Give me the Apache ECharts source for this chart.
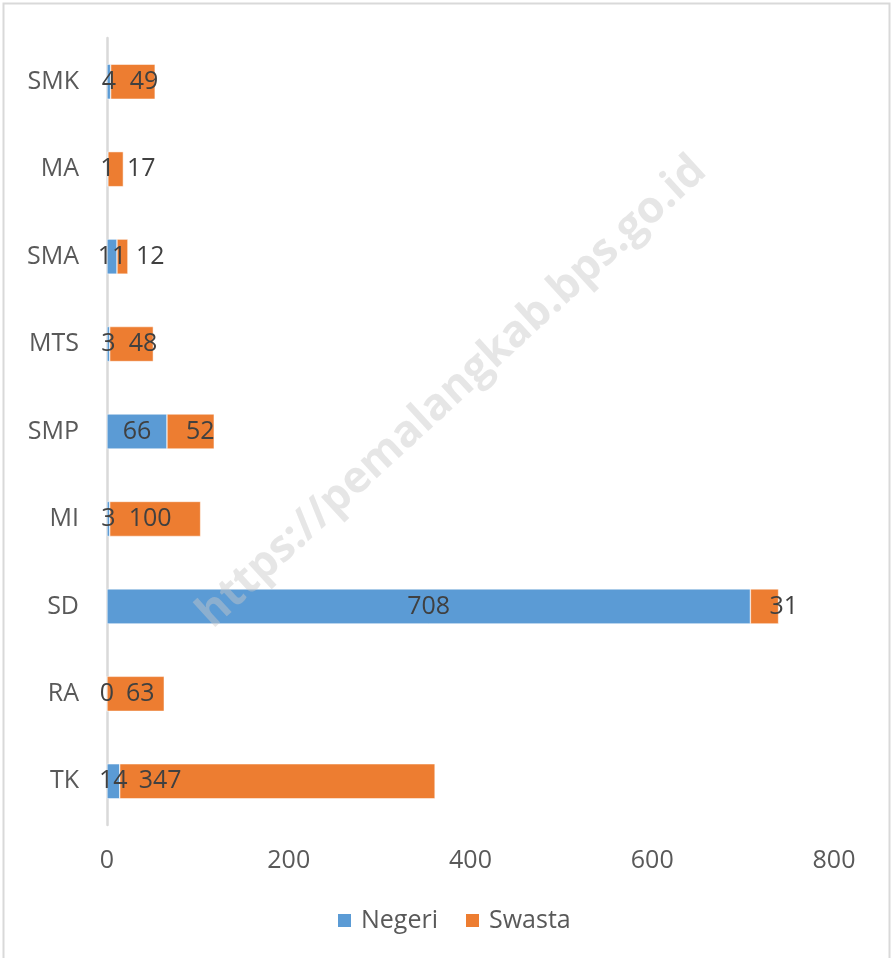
<!DOCTYPE html>
<html>
<head>
<meta charset="utf-8">
<script src="https://cdn.jsdelivr.net/npm/echarts@6/dist/echarts.min.js"></script>
<style>
  html, body { margin: 0; padding: 0; background: #fff; }
  #chart { width: 891px; height: 958px; }
</style>
</head>
<body>
<div id="chart"></div>
<script>
var categories = ['TK', 'RA', 'SD', 'MI', 'SMP', 'MTS', 'SMA', 'MA', 'SMK'];
var negeri = [14, 0, 708, 3, 66, 3, 11, 1, 4];
var swasta = [347, 63, 31, 100, 52, 48, 12, 17, 49];
var xTicks = [0, 200, 400, 600, 800];

var font = '"Open Sans", "Noto Sans", sans-serif';

var chart = echarts.init(document.getElementById('chart'));

var option = {
    animation: false,
    textStyle: { fontFamily: font },
    grid: { left: 107, right: 57, top: 38, bottom: 133, containLabel: false },
    legend: {
        bottom: 20,
        left: 331,
        itemWidth: 15,
        itemHeight: 15,
        itemGap: 26,
        icon: 'rect',
        textStyle: { fontSize: 25, color: '#595959', fontFamily: font, padding: [0, 0, 0, 4] },
        data: ['Negeri', 'Swasta']
    },
    xAxis: {
        type: 'value',
        min: xTicks[0],
        max: xTicks[xTicks.length - 1],
        interval: 200,
        axisLine: { show: false },
        axisTick: { show: false },
        splitLine: { show: false },
        axisLabel: { fontSize: 25, color: '#595959', margin: 23, fontFamily: font }
    },
    yAxis: {
        type: 'category',
        data: categories,
        axisLine: { show: true, lineStyle: { color: '#d9d9d9', width: 2.5 } },
        axisTick: { show: false },
        axisLabel: { fontSize: 25, color: '#595959', margin: 28, fontFamily: font }
    },
    series: [
        {
            name: 'Negeri',
            type: 'bar',
            stack: 'total',
            barWidth: 35,
            data: negeri,
            itemStyle: { color: '#5b9bd5', borderColor: '#ffffff', borderWidth: 0.5 },
            label: { show: true, position: 'inside', fontSize: 25, color: '#404040', fontFamily: font }
        },
        {
            name: 'Swasta',
            type: 'bar',
            stack: 'total',
            barWidth: 35,
            data: swasta,
            itemStyle: { color: '#ed7d31', borderColor: '#ffffff', borderWidth: 0.5 },
            label: { show: true, position: 'insideLeft', distance: 19, fontSize: 25, color: '#404040', fontFamily: font }
        }
    ],
    graphic: [
        {
            type: 'rect',
            shape: { x: 3.5, y: 3.5, width: 886, height: 970 },
            style: { fill: 'none', stroke: '#d9d9d9', lineWidth: 2 },
            silent: true,
            z: 0
        },
        {
            type: 'text',
            x: 452,
            y: 392,
            rotation: 42.6 * Math.PI / 180,
            silent: true,
            z: 100,
            style: {
                text: 'https://pemalangkab.bps.go.id',
                font: 'bold 44px ' + font,
                fill: 'rgba(200,200,200,0.45)',
                align: 'center',
                verticalAlign: 'middle'
            }
        }
    ]
};

chart.setOption(option);
</script>
</body>
</html>
